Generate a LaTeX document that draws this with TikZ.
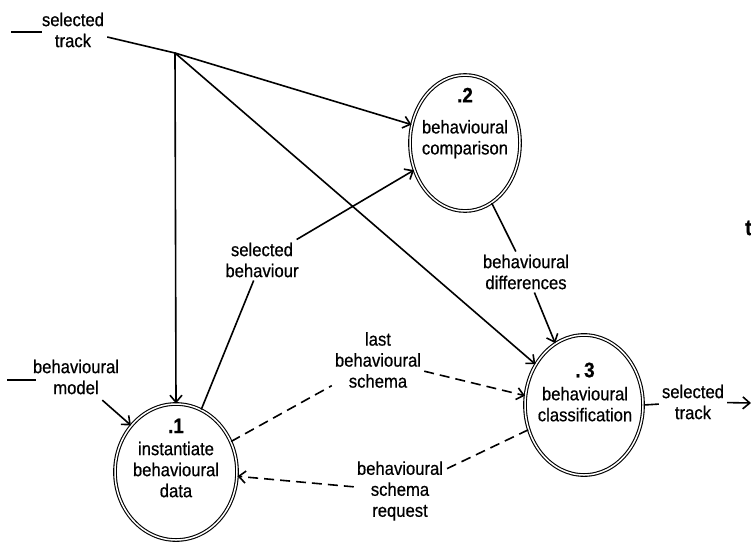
\documentclass[tikz,border=0pt]{standalone}
\usepackage{fontspec}
\setmainfont{Liberation Sans}[FakeStretch=0.9, FakeBold=0.6]
\usetikzlibrary{shapes.geometric,arrows.meta}

\begin{document}
\begin{tikzpicture}[x=1pt, y=-1pt, font=\fontsize{18.5}{21}\selectfont,
  process/.style={draw, ellipse, double, double distance=1.5pt, line width=1.1pt, inner sep=0pt},
  proctext/.style={align=center, inner sep=0pt},
  procnum/.style={font=\fontsize{21}{21}\selectfont\bfseries},
  flowlabel/.style={align=center, inner sep=3pt},
  plain/.style={line width=1.6pt},
  flow/.style={plain, -{Straight Barb[length=7pt,width=12pt]}},
  schema/.style={plain, dash pattern=on 10pt off 6pt}]
  \useasboundingbox (0,0) rectangle (751,544);

  \node[process, minimum width=122pt, minimum height=136pt] (p1) at (176,472) {};
  \node[process, minimum width=110pt, minimum height=136pt] (p2) at (465,143) {};
  \node[process, minimum width=118pt, minimum height=140pt] (p3) at (584,405) {};
  \node[proctext] (p1t) at (176,458) {{\bfseries\fontsize{21}{21}\selectfont .1}\\[1pt]instantiate\\behavioural\\data};
  \node[proctext] (p2t) at (465,123) {{\bfseries\fontsize{21}{21}\selectfont .2}\\[10pt]behavioural\\comparison};
  \node[proctext] (p3t) at (585,392) {{\bfseries\fontsize{21}{21}\selectfont .\,3}\\[2pt]behavioural\\classification};

  \node[flowlabel] (seltrk) at (73,30) {selected\\track};
  \node[flowlabel] (model) at (76,377) {behavioural\\model};
  \node[flowlabel] (selbeh) at (262,260) {selected\\behaviour};
  \node[flowlabel] (diffs) at (526,272) {behavioural\\differences};
  \node[flowlabel] (lastsch) at (378,360) {last\\behavioural\\schema};
  \node[flowlabel] (request) at (400,491) {behavioural\\schema\\request};
  \node[flowlabel] (outtrk) at (693,402) {selected\\track};
  \node[anchor=west, inner sep=0pt, font=\fontsize{22}{22}\selectfont\bfseries] (tfrag) at (745,228) {t};
  \coordinate (j) at (175,53);
  \coordinate (sink) at (751,403);

  \draw[plain] ([xshift=3pt,yshift=-2pt]seltrk.west) -- ++(-31,0);
  \draw[plain] ([xshift=6pt,yshift=-3pt]model.west) -- ++(-29,0);
  \draw[plain] ([yshift=-7pt]seltrk.east) -- (j);
  \draw[flow] (j) -- (p2.161);
  \draw[flow] (j) -- (p1.north);
  \draw[flow] (j) -- (p3.140);
  \draw[flow, shorten <=4pt] (model) -- (p1.134);
  \draw[plain] (p1.68) -- (selbeh);
  \draw[flow] (selbeh) -- (p2.208);
  \draw[plain] (p2.294) -- (diffs);
  \draw[flow] (diffs) -- (p3.115);
  \draw[schema] (p1.29) -- (lastsch);
  \draw[schema, -{Straight Barb[length=7pt,width=12pt]}] (lastsch) -- (p3.171);
  \draw[schema] (p3.204) -- (request);
  \draw[schema, -{Straight Barb[length=7pt,width=12pt]}] (request) -- (p1.-4);
  \draw[plain] (p3.east) -- (outtrk);
  \draw[flow] (outtrk) -- (sink);
\end{tikzpicture}
\end{document}
